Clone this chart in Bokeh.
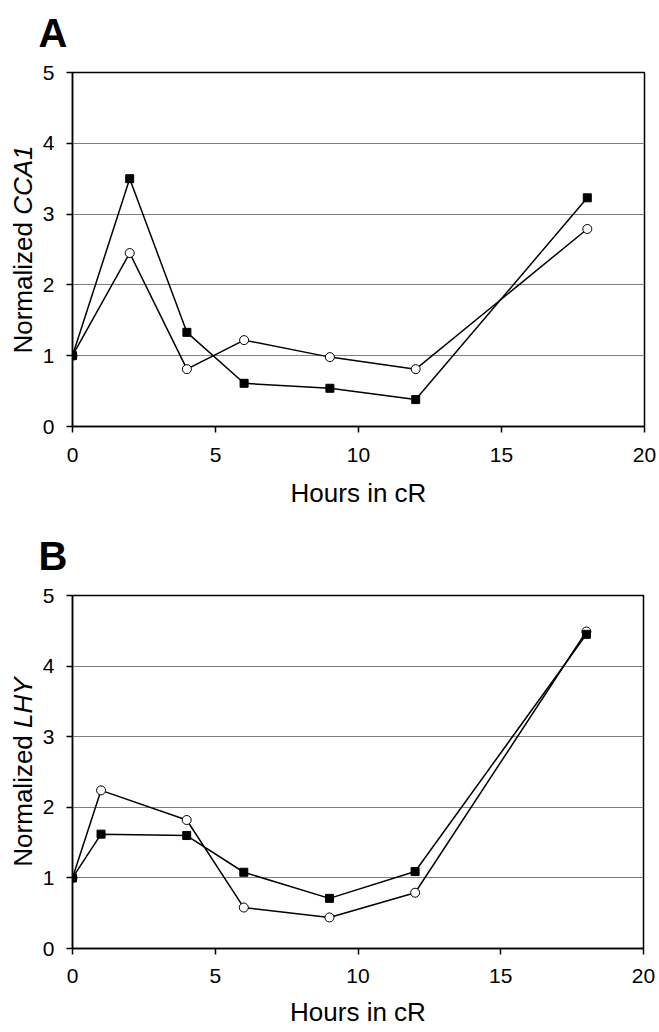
import math
from bokeh.plotting import figure
from bokeh.layouts import column, row
from bokeh.models import Range1d, FixedTicker, Label
from bokeh.embed import file_html
from bokeh.resources import INLINE

# ---- data ----
a_hours = [0, 2, 4, 6, 9, 12, 18]
a_filled = [1.0, 3.5, 1.33, 0.61, 0.54, 0.38, 3.23]
a_open = [1.0, 2.45, 0.81, 1.22, 0.98, 0.81, 2.79]

b_hours = [0, 1, 4, 6, 9, 12, 18]
b_filled = [1.0, 1.62, 1.60, 1.08, 0.71, 1.09, 4.45]
b_open = [1.0, 2.24, 1.82, 0.58, 0.44, 0.79, 4.49]

x_ticks = [0, 5, 10, 15, 20]
y_ticks = [0, 1, 2, 3, 4, 5]

FONT = "Liberation Sans"
TICK_PX = 21
TITLE_PX = 26
STRIP_W = 36
TOTAL_W = 659


def panel(letter, gene, hours, filled, opened, top, bottom, right, height, tick_so, lab_so):
    main_w = TOTAL_W - STRIP_W
    left = 72 - STRIP_W
    p = figure(width=main_w, height=height, output_backend="svg", toolbar_location=None,
               x_range=Range1d(0, 20), y_range=Range1d(0, 5),
               min_border_left=left, min_border_right=right,
               min_border_top=top, min_border_bottom=bottom)
    p.background_fill_color = "white"
    p.border_fill_color = "white"
    p.outline_line_color = "black"
    p.outline_line_width = 1.5

    p.xgrid.grid_line_color = None
    p.ygrid.grid_line_color = "#808080"
    p.ygrid.grid_line_width = 1
    p.ygrid.ticker = FixedTicker(ticks=y_ticks)

    for ax in (p.xaxis[0], p.yaxis[0]):
        ax.axis_line_color = "black"
        ax.axis_line_width = 1.5
        ax.major_tick_line_color = "black"
        ax.major_tick_line_width = 1.5
        ax.major_tick_out = 6
        ax.major_tick_in = 0
        ax.minor_tick_line_color = None
        ax.major_label_text_font = FONT
        ax.major_label_text_font_size = f"{TICK_PX}px"
        ax.major_label_text_color = "black"
    p.xaxis.major_label_standoff = tick_so
    p.yaxis.major_label_standoff = 12
    p.xaxis.ticker = FixedTicker(ticks=x_ticks)
    p.yaxis.ticker = FixedTicker(ticks=y_ticks)

    p.xaxis.axis_label = "Hours in cR"
    p.xaxis.axis_label_text_font = FONT
    p.xaxis.axis_label_text_font_style = "normal"
    p.xaxis.axis_label_text_color = "black"
    p.xaxis.axis_label_text_font_size = f"{TITLE_PX}px"
    p.xaxis.axis_label_standoff = lab_so

    # series: open circles first, filled squares on top
    p.line(hours, opened, line_color="black", line_width=1.5)
    p.line(hours, filled, line_color="black", line_width=1.5)
    p.scatter(hours, opened, marker="circle", size=9, fill_color="white",
              line_color="black", line_width=1)
    p.scatter(hours, filled, marker="square", size=8, fill_color="black",
              line_color="black", line_width=1)

    fw = main_w - left - right
    fh = height - top - bottom
    pxx = fw / 20.0
    pxy = fh / 5.0

    # panel letter (in the above side panel, positioned via data units)
    p.add_layout(Label(x=-(72 - 38) / pxx, y=5 + 40 / pxy, text=letter,
                       text_align="left", text_baseline="alphabetic",
                       text_font=FONT, text_font_style="bold", text_font_size="40px",
                       text_color="black"), "above")

    # strip on the left holding the y-axis title ("Normalized" + italic gene)
    s = figure(width=STRIP_W, height=height, output_backend="svg", toolbar_location=None,
               x_range=Range1d(0, STRIP_W), y_range=Range1d(0, 5),
               x_axis_type=None, y_axis_type=None,
               min_border_left=0, min_border_right=0,
               min_border_top=top, min_border_bottom=bottom)
    s.outline_line_color = None
    s.grid.grid_line_color = None
    s.background_fill_color = "white"
    s.border_fill_color = "white"

    em = TITLE_PX
    w_norm = 5.056 * em
    w_space = 0.278 * em
    w_gene = {"CCA1": 2.667, "LHY": 1.945}[gene] * em
    total = w_norm + w_space + w_gene
    start = 2.5 - (total / 2) / pxy
    split = start + w_norm / pxy
    s.add_layout(Label(x=22, y=split, text="Normalized", angle=math.pi / 2,
                       text_align="right", text_baseline="middle",
                       text_font=FONT, text_font_size=f"{TITLE_PX}px", text_color="black"))
    s.add_layout(Label(x=22, y=split + w_space / pxy, text=gene, angle=math.pi / 2,
                       text_align="left", text_baseline="middle",
                       text_font=FONT, text_font_style="italic",
                       text_font_size=f"{TITLE_PX}px", text_color="black"))
    return row(s, p, spacing=0)


ra = panel("A", "CCA1", a_hours, a_filled, a_open, top=72, bottom=90, right=15,
           height=516, tick_so=15, lab_so=13)
rb = panel("B", "LHY", b_hours, b_filled, b_open, top=79, bottom=84, right=16,
           height=516, tick_so=14, lab_so=11)

layout = column(ra, rb, spacing=0)
open("out.html", "w").write(file_html(layout, INLINE))
